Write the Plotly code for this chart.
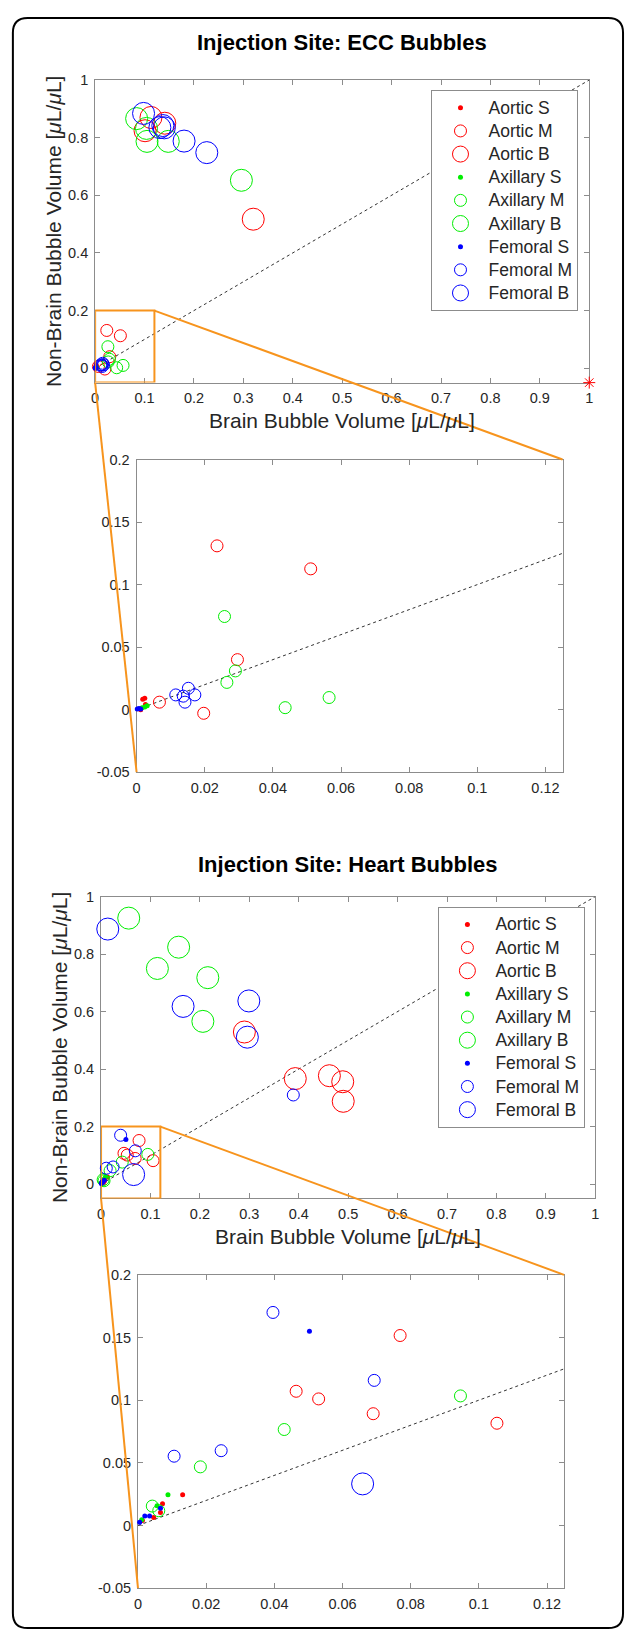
import plotly.graph_objects as go

W, H = 629, 1644

# ---------------- data: Injection Site ECC ----------------
ecc_aortic_s_x = [0.0012, 0.0018, 0.0024, 0.0026]
ecc_aortic_s_y = [0.0000, 0.0084, 0.0092, 0.0042]
ecc_aortic_m_x = [0.0236, 0.0511, 0.0296, 0.0067, 0.0197]
ecc_aortic_m_y = [0.1310, 0.1126, 0.0400, 0.0060, -0.0029]
ecc_aortic_b_x = [0.113, 0.141, 0.101, 0.320]
ecc_aortic_b_y = [0.870, 0.850, 0.824, 0.517]
ecc_axillary_s_x = [0.0016, 0.0024, 0.0031]
ecc_axillary_s_y = [0.0016, 0.0021, 0.0032]
ecc_axillary_m_x = [0.0258, 0.0290, 0.0265, 0.0436, 0.0565]
ecc_axillary_m_y = [0.0745, 0.0310, 0.0218, 0.0016, 0.0097]
ecc_axillary_b_x = [0.084, 0.104, 0.105, 0.148, 0.296]
ecc_axillary_b_y = [0.866, 0.832, 0.787, 0.787, 0.652]
ecc_femoral_s_x = [0.0002, 0.0007, 0.0012]
ecc_femoral_s_y = [0.0005, 0.0010, 0.0005]
ecc_femoral_m_x = [0.0115, 0.0152, 0.0137, 0.0142, 0.0171]
ecc_femoral_m_y = [0.0118, 0.0171, 0.0108, 0.0060, 0.0118]
ecc_femoral_b_x = [0.098, 0.131, 0.137, 0.140, 0.180, 0.226]
ecc_femoral_b_y = [0.884, 0.835, 0.842, 0.834, 0.788, 0.748]
ecc_outlier_x = [1.0]
ecc_outlier_y = [-0.05]

# ---------------- data: Injection Site Heart ----------------
heart_aortic_s_x = [0.0131, 0.0072, 0.0066, 0.0046, 0.0013]
heart_aortic_s_y = [0.0245, 0.0174, 0.0103, 0.0063, 0.0040]
heart_aortic_m_x = [0.0769, 0.0464, 0.0530, 0.0690, 0.1053]
heart_aortic_m_y = [0.1516, 0.1071, 0.1010, 0.0892, 0.0816]
heart_aortic_b_x = [0.290, 0.393, 0.462, 0.489, 0.490]
heart_aortic_b_y = [0.529, 0.367, 0.377, 0.356, 0.288]
heart_axillary_s_x = [0.0088, 0.0056, 0.0011]
heart_axillary_s_y = [0.0245, 0.0158, 0.0045]
heart_axillary_m_x = [0.0946, 0.0429, 0.0183, 0.0042, 0.0061]
heart_axillary_m_y = [0.1034, 0.0766, 0.0468, 0.0155, 0.0118]
heart_axillary_b_x = [0.056, 0.157, 0.114, 0.216, 0.206]
heart_axillary_b_y = [0.925, 0.824, 0.750, 0.718, 0.566]
heart_femoral_s_x = [0.0503, 0.0066, 0.0020, 0.0034, 0.0005]
heart_femoral_s_y = [0.1550, 0.0137, 0.0076, 0.0076, 0.0026]
heart_femoral_m_x = [0.0396, 0.0693, 0.0106, 0.0244, 0.389]
heart_femoral_m_y = [0.1700, 0.1158, 0.0553, 0.0597, 0.310]
heart_femoral_b_x = [0.0136, 0.166, 0.299, 0.296, 0.0659]
heart_femoral_b_y = [0.887, 0.618, 0.637, 0.511, 0.0332]

# ---------------- labels / ticks ----------------
legend_names = ["Aortic S", "Aortic M", "Aortic B",
                "Axillary S", "Axillary M", "Axillary B",
                "Femoral S", "Femoral M", "Femoral B"]
main_x_ticks = [0, 0.1, 0.2, 0.3, 0.4, 0.5, 0.6, 0.7, 0.8, 0.9, 1]
main_x_labels = ["0", "0.1", "0.2", "0.3", "0.4", "0.5", "0.6", "0.7", "0.8", "0.9", "1"]
main_y_ticks = [0, 0.2, 0.4, 0.6, 0.8, 1]
main_y_labels = ["0", "0.2", "0.4", "0.6", "0.8", "1"]
inset_x_ticks = [0, 0.02, 0.04, 0.06, 0.08, 0.1, 0.12]
inset_x_labels = ["0", "0.02", "0.04", "0.06", "0.08", "0.1", "0.12"]
inset_y_ticks = [-0.05, 0, 0.05, 0.1, 0.15, 0.2]
inset_y_labels = ["-0.05", "0", "0.05", "0.1", "0.15", "0.2"]
diag = [0, 1]
main_range_x = [0, 1]
main_range_y = [-0.05, 1]
inset_range_x = [0, 0.125]
inset_range_y = [-0.05, 0.2]
zoom_box_x = [0, 0.12]
zoom_box_y = [-0.05, 0.2]
titles = ["Injection Site: ECC Bubbles", "Injection Site: Heart Bubbles"]
x_title = "Brain Bubble Volume [<i>μ</i>L/<i>μ</i>L]"
y_title = "Non-Brain Bubble Volume [<i>μ</i>L/<i>μ</i>L]"

ecc_groups = [
    (ecc_aortic_s_x, ecc_aortic_s_y), (ecc_aortic_m_x, ecc_aortic_m_y), (ecc_aortic_b_x, ecc_aortic_b_y),
    (ecc_axillary_s_x, ecc_axillary_s_y), (ecc_axillary_m_x, ecc_axillary_m_y), (ecc_axillary_b_x, ecc_axillary_b_y),
    (ecc_femoral_s_x, ecc_femoral_s_y), (ecc_femoral_m_x, ecc_femoral_m_y), (ecc_femoral_b_x, ecc_femoral_b_y),
]
heart_groups = [
    (heart_aortic_s_x, heart_aortic_s_y), (heart_aortic_m_x, heart_aortic_m_y), (heart_aortic_b_x, heart_aortic_b_y),
    (heart_axillary_s_x, heart_axillary_s_y), (heart_axillary_m_x, heart_axillary_m_y), (heart_axillary_b_x, heart_axillary_b_y),
    (heart_femoral_s_x, heart_femoral_s_y), (heart_femoral_m_x, heart_femoral_m_y), (heart_femoral_b_x, heart_femoral_b_y),
]

# ---------------- styles ----------------
FONT = "Helvetica, Arial, 'Liberation Sans', sans-serif"
TXT = "#262626"
AXC = "#8c8c8c"
ORANGE = "#F7941D"
site_colors = ["#ff0000", "#ff0000", "#ff0000", "#00ee00", "#00ee00", "#00ee00",
               "#0000ff", "#0000ff", "#0000ff"]
size_class = ["S", "M", "B"] * 3
MARK = {"S": dict(symbol="circle", size=5),
        "M": dict(symbol="circle-open", size=12, line=dict(width=1)),
        "B": dict(symbol="circle-open", size=22, line=dict(width=1))}
LEGEND_TEXT_PX = 17.5

# panel boxes in pixels (x0, x1), (y0 top, y1 bottom)
panels = {
    "m1": ((92.3, 592.8), (72.7, 378.3)),
    "i1": ((134.3, 565.7), (456.0, 771.7)),
    "m2": ((98.3, 598.9), (897.3, 1202.2)),
    "i2": ((135.7, 567.3), (1279.3, 1595.7)),
}


def dom_x(p):
    return [panels[p][0][0] / W, panels[p][0][1] / W]


def dom_y(p):
    return [1 - panels[p][1][1] / H, 1 - panels[p][1][0] / H]


def data_to_paper(p, rx, ry, x, y):
    dx, dy = dom_x(p), dom_y(p)
    px = dx[0] + (x - rx[0]) / (rx[1] - rx[0]) * (dx[1] - dx[0])
    py = dy[0] + (y - ry[0]) / (ry[1] - ry[0]) * (dy[1] - dy[0])
    return px, py


fig = go.Figure()

axes_map = {"m1": ("x", "y"), "i1": ("x2", "y2"), "m2": ("x3", "y3"), "i2": ("x4", "y4")}


def add_panel(groups, p, is_inset, legend_id):
    xa, ya = axes_map[p]
    rx = inset_range_x if is_inset else main_range_x
    ry = inset_range_y if is_inset else main_range_y
    fig.add_trace(go.Scatter(x=diag, y=diag, mode="lines", xaxis=xa, yaxis=ya,
                             line=dict(color="#333333", width=1, dash="3px,3px"),
                             showlegend=False, hoverinfo="skip", cliponaxis=True))
    for (gx, gy), name, col, sc in zip(groups, legend_names, site_colors, size_class):
        if is_inset:
            pts = [(a, b) for a, b in zip(gx, gy)
                   if rx[0] <= a <= rx[1] and ry[0] <= b <= ry[1]]
            gx = [a for a, _ in pts]
            gy = [b for _, b in pts]
        m = dict(MARK[sc])
        m["color"] = col
        label = f'<span style="font-size:{LEGEND_TEXT_PX}px">{name}</span>'
        fig.add_trace(go.Scatter(x=gx, y=gy, mode="markers", name=label,
                                 xaxis=xa, yaxis=ya, marker=m,
                                 showlegend=not is_inset, legend=legend_id,
                                 cliponaxis=False))


add_panel(ecc_groups, "m1", False, "legend")
fig.add_trace(go.Scatter(x=ecc_outlier_x, y=ecc_outlier_y, mode="markers", xaxis="x", yaxis="y",
                         marker=dict(symbol="asterisk-open", size=10, color="#ff0000",
                                     line=dict(width=1, color="#ff0000")),
                         showlegend=False, cliponaxis=False))
add_panel(ecc_groups, "i1", True, "legend")
add_panel(heart_groups, "m2", False, "legend2")
add_panel(heart_groups, "i2", True, "legend2")


def axis(p, is_x, is_inset, anchor):
    if is_x:
        tv, tt = (inset_x_ticks, inset_x_labels) if is_inset else (main_x_ticks, main_x_labels)
        rng = inset_range_x if is_inset else main_range_x
        dom = dom_x(p)
    else:
        tv, tt = (inset_y_ticks, inset_y_labels) if is_inset else (main_y_ticks, main_y_labels)
        rng = inset_range_y if is_inset else main_range_y
        dom = dom_y(p)
    return dict(domain=dom, range=rng, anchor=anchor, showgrid=False, zeroline=False,
                showline=True, linecolor=AXC, linewidth=1, mirror="allticks",
                ticks="inside", ticklen=5, tickwidth=1, tickcolor=AXC,
                tickvals=tv, ticktext=tt, tickfont=dict(size=14.5, color=TXT, family=FONT),
                ticklabelstandoff=2 if is_x else 3, layer="below traces")


legend_style = dict(xanchor="left", yanchor="top", bgcolor="white", bordercolor=AXC, borderwidth=1,
                    font=dict(size=15.5, color=TXT, family=FONT), itemsizing="trace", itemwidth=46)

layout = dict(
    width=W, height=H, margin=dict(l=0, r=0, t=0, b=0),
    paper_bgcolor="white", plot_bgcolor="white",
    font=dict(family=FONT, color=TXT),
    xaxis=axis("m1", True, False, "y"), yaxis=axis("m1", False, False, "x"),
    xaxis2=axis("i1", True, True, "y2"), yaxis2=axis("i1", False, True, "x2"),
    xaxis3=axis("m2", True, False, "y3"), yaxis3=axis("m2", False, False, "x3"),
    xaxis4=axis("i2", True, True, "y4"), yaxis4=axis("i2", False, True, "x4"),
    legend=dict(x=433 / W, y=1 - 83 / H, **legend_style),
    legend2=dict(x=440 / W, y=1 - 907.7 / H, **legend_style),
    showlegend=True,
)
fig.update_layout(**layout)

annotations = []
shapes = []
for p_main, p_ins, title, ty in [("m1", "i1", titles[0], 35), ("m2", "i2", titles[1], 865)]:
    (x0, x1), (y0, y1) = panels[p_main]
    cx = (x0 + x1) / 2 / W
    annotations.append(dict(text="<b>" + title + "</b>", x=cx, y=1 - ty / H, xref="paper", yref="paper",
                            showarrow=False, xanchor="center", yanchor="middle",
                            font=dict(size=22, color="black", family=FONT)))
    annotations.append(dict(text=x_title, x=cx, y=1 - (y1 + 38.7) / H, xref="paper", yref="paper",
                            showarrow=False, xanchor="center", yanchor="middle",
                            font=dict(size=21, color=TXT, family=FONT)))
    annotations.append(dict(text=y_title, x=(x0 - 42) / W, y=1 - (y0 + y1) / 2 / H,
                            xref="paper", yref="paper", textangle=-90,
                            showarrow=False, xanchor="center", yanchor="middle",
                            font=dict(size=21, color=TXT, family=FONT)))
    xa, ya = axes_map[p_main]
    shapes.append(dict(type="rect", xref=xa, yref=ya, x0=zoom_box_x[0], x1=zoom_box_x[1],
                       y0=zoom_box_y[0], y1=zoom_box_y[1], line=dict(color=ORANGE, width=2),
                       layer="above"))
    # connector lines from zoom box corners to inset corners
    a = data_to_paper(p_main, main_range_x, main_range_y, zoom_box_x[1], zoom_box_y[1])
    b = data_to_paper(p_ins, inset_range_x, inset_range_y, inset_range_x[1], inset_range_y[1])
    shapes.append(dict(type="line", xref="paper", yref="paper", x0=a[0], y0=a[1], x1=b[0], y1=b[1],
                       line=dict(color=ORANGE, width=2), layer="above"))
    a = data_to_paper(p_main, main_range_x, main_range_y, zoom_box_x[0], zoom_box_y[0])
    b = data_to_paper(p_ins, inset_range_x, inset_range_y, inset_range_x[0], inset_range_y[0])
    shapes.append(dict(type="line", xref="paper", yref="paper", x0=a[0], y0=a[1], x1=b[0], y1=b[1],
                       line=dict(color=ORANGE, width=2), layer="above"))

# rounded outer frame
fx0, fx1, fy0, fy1, r = 9, 627, 10, 1636, 15


def P(x, y):
    return f"{x / W:.6f},{1 - y / H:.6f}"


path = (f"M {P(fx0 + r, fy0)} L {P(fx1 - r, fy0)} Q {P(fx1, fy0)} {P(fx1, fy0 + r)} "
        f"L {P(fx1, fy1 - r)} Q {P(fx1, fy1)} {P(fx1 - r, fy1)} "
        f"L {P(fx0 + r, fy1)} Q {P(fx0, fy1)} {P(fx0, fy1 - r)} "
        f"L {P(fx0, fy0 + r)} Q {P(fx0, fy0)} {P(fx0 + r, fy0)} Z")
shapes.append(dict(type="path", path=path, xref="paper", yref="paper",
                   line=dict(color="black", width=2), layer="above"))

fig.update_layout(annotations=annotations, shapes=shapes)
fig.write_html("out.html", config={"displayModeBar": False},
               post_script="document.body.style.margin='0';")
